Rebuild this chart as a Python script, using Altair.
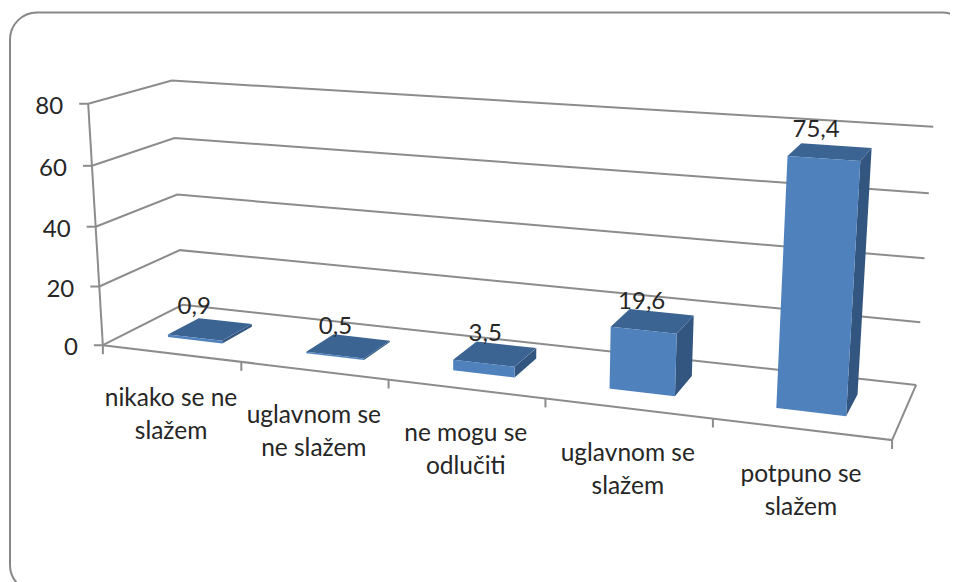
import altair as alt
import numpy as np
import pandas as pd

# ---- chart values -------------------------------------------------------
categories = [["nikako se ne", "slažem"], ["uglavnom se", "ne slažem"],
              ["ne mogu se", "odlučiti"], ["uglavnom se", "slažem"],
              ["potpuno se", "slažem"]]
values = [0.9, 0.5, 3.5, 19.6, 75.4]
y_ticks = [0, 20, 40, 60, 80]
y_max = 80

# ---- camera of the 3D box: (along, height, depth) -> screen pixel --------
camera_world = [(0,0,0),(1,0,0),(0,0,1),(1,0,1),(0,1,0),(0,1,1),(1,1,1),
                (0,.75,0),(0,.5,0),(0,.25,0),(0,.75,1),(0,.5,1),(0,.25,1),
                (1,.75,1),(1,.5,1),(1,.25,1),(.2,0,0),(.4,0,0),(.6,0,0),(.8,0,0)]
camera_screen = [(103.5,345),(892,441),(181,306),(916,385),(87.5,104),(172,81),(933,127),
                 (91,166),(96,226.5),(99.5,286),(175,138),(178,194),(180,249.5),
                 (929,193),(925,258),(920,322),(241.7,362),(389,380),(545,398),(713,418)]
label_nudge = [(-16, -22), (-13, -19), (-10, -20), (-11, -19), (-14, -22)]

def fit_camera():
    rows, rhs = [], []
    for (u, v, d), (X, Y) in zip(camera_world, camera_screen):
        rows.append([u, v, d, 1, 0, 0, 0, 0, -X*u, -X*v, -X*d]); rhs.append(X)
        rows.append([0, 0, 0, 0, u, v, d, 1, -Y*u, -Y*v, -Y*d]); rhs.append(Y)
    return np.linalg.lstsq(np.array(rows, float), np.array(rhs, float), rcond=None)[0]

M = fit_camera()

def project(u, v, d):
    w = M[8]*u + M[9]*v + M[10]*d + 1
    return ((M[0]*u + M[1]*v + M[2]*d + M[3]) / w,
            (M[4]*u + M[5]*v + M[6]*d + M[7]) / w)

def polygon_rows(verts, key):
    """Convex polygon -> rows of an area mark (x, y, y2)."""
    n = len(verts)
    rows = []
    for x in sorted({round(p[0], 3) for p in verts}):
        ys = []
        for i in range(n):
            (x0, y0), (x1, y1) = verts[i], verts[(i + 1) % n]
            lo, hi = min(x0, x1), max(x0, x1)
            if lo - 0.002 <= x <= hi + 0.002:
                if abs(x1 - x0) < 1e-6:
                    ys += [y0, y1]
                else:
                    ys.append(y0 + (y1 - y0) * (x - x0) / (x1 - x0))
        rows.append({"x": x, "y": min(ys), "y2": max(ys), "key": key})
    return rows

# ---- derive drawing tables from the values --------------------------------
n = len(values)
line_rows = []
def add_line(pts, key):
    for o, (x, y) in enumerate(pts):
        line_rows.append({"x": x, "y": y, "o": o, "key": key})

for t in y_ticks:
    v = t / y_max
    add_line([project(0, v, 0), project(0, v, 1), project(1, v, 1)], f"grid{t}")
    px, py = project(0, v, 0)
    add_line([(px - 9, py), (px, py)], f"ytick{t}")
add_line([project(0, 0, 0), project(0, 1, 0)], "yaxis")
add_line([project(0, 0, 0), project(1, 0, 0), project(1, 0, 1)], "floor")
for i in range(n + 1):
    px, py = project(i / n, 0, 0)
    add_line([(px, py), (px, py + 9)], f"xtick{i}")

GAP, DEPTH0, DEPTH1 = 0.3, 0.3, 0.7
front_rows, side_rows, top_rows = [], [], []
for i, val in enumerate(values):
    u0, u1 = (i + GAP) / n, (i + 1 - GAP) / n
    v = val / y_max
    front_rows += polygon_rows([project(u0,0,DEPTH0), project(u1,0,DEPTH0), project(u1,v,DEPTH0), project(u0,v,DEPTH0)], i)
    side_rows += polygon_rows([project(u1,0,DEPTH0), project(u1,0,DEPTH1), project(u1,v,DEPTH1), project(u1,v,DEPTH0)], i)
    top_rows += polygon_rows([project(u0,v,DEPTH0), project(u1,v,DEPTH0), project(u1,v,DEPTH1), project(u0,v,DEPTH1)], i)

ytick_rows = [dict(zip("xy", project(0, t / y_max, 0)), label=str(t)) for t in y_ticks]

cat_rows = []
for i, lines in enumerate(categories):
    px, py = project((i + .5) / n, 0, 0)
    for j, line in enumerate(lines):
        cat_rows.append({"x": px, "y": py + 45.5 + 33 * j, "label": line})

value_rows = []
for i, val in enumerate(values):
    px, py = project((i + .5) / n, val / y_max, .5)
    value_rows.append({"x": px + label_nudge[i][0], "y": py + label_nudge[i][1],
                       "label": f"{val:.1f}".replace(".", ",")})

# ---- shared pixel scales ---------------------------------------------------
W, H = 942, 574
sx = alt.Scale(domain=[8, 8 + W], range=[0, W], nice=False, zero=False)
sy = alt.Scale(domain=[8, 8 + H], range=[0, H], nice=False, zero=False)
X = alt.X("x:Q", axis=None, scale=sx)
Y = alt.Y("y:Q", axis=None, scale=sy, stack=None)
FONT = "Lato"
TEXT = "#262626"

frame = alt.Chart(pd.DataFrame([{"x": 10, "x2": 969, "y": 12.5, "y2": 592}])).mark_rect(
    cornerRadius=27, fill="white", stroke="#888888", strokeWidth=2, clip=False
).encode(X, alt.X2("x2:Q"), Y, alt.Y2("y2:Q"))

lines = alt.Chart(pd.DataFrame(line_rows)).mark_line(
    color="#8c8c8c", strokeWidth=2
).encode(X, Y, detail="key:N", order="o:Q")

def faces(rows, color):
    return alt.Chart(pd.DataFrame(rows)).mark_area(
        color=color, orient="vertical", interpolate="linear"
    ).encode(X, Y, alt.Y2("y2:Q"), detail="key:N")

side = faces(side_rows, "#32567f")
top = faces(top_rows, "#3b6493")
front = faces(front_rows, "#4f81bd")

ytext = alt.Chart(pd.DataFrame(ytick_rows)).mark_text(
    font=FONT, fontSize=24, color=TEXT, align="right", baseline="middle", dx=-25, dy=3
).encode(X, Y, text="label:N")
ctext = alt.Chart(pd.DataFrame(cat_rows)).mark_text(
    font=FONT, fontSize=24.5, color=TEXT, align="center", baseline="middle"
).encode(X, Y, text="label:N")
vtext = alt.Chart(pd.DataFrame(value_rows)).mark_text(
    font=FONT, fontSize=24, color=TEXT, align="center", baseline="middle"
).encode(X, Y, text="label:N")

chart = alt.layer(
    frame, lines, side, top, front, ytext, ctext, vtext
).properties(
    width=W, height=H, padding=0, background="white",
    autosize=alt.AutoSizeParams(type="none")
).configure_view(stroke=None)

chart.save("out.html", embed_options={"renderer": "svg", "actions": False})
